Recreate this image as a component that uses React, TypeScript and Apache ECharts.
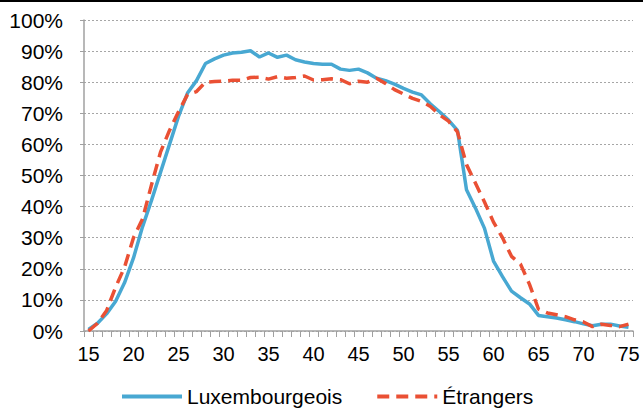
import React, { useEffect, useRef } from "react";
import * as echarts from "echarts";

const ages: string[] = [];
for (let a = 15; a <= 75; a++) ages.push(String(a));

const luxembourgeois = [
  0.5, 2.5, 5.5, 9.5, 15.5, 23.5, 33.5, 42, 51, 60,
  69, 76.5, 80.5, 86, 87.5, 88.7, 89.4, 89.6, 90.1, 88.1,
  89.4, 88, 88.7, 87.2, 86.5, 86, 85.8, 85.8, 84.2, 83.8,
  84.2, 83, 81.3, 80.5, 79.4, 78, 76.8, 75.9, 73, 70.5,
  67.8, 64.5, 45.4, 39.5, 33, 22.5, 17.5, 12.8, 10.7, 8.7,
  5, 4.6, 4.2, 3.6, 3, 2.3, 1.7, 2.2, 2.2, 1.6,
  1.2,
];

const etrangers = [
  0, 2.5, 6.5, 14, 20.5, 30, 36, 47, 57.5, 64.5,
  70.5, 76, 77, 80, 80.2, 80.3, 80.6, 80.6, 81.5, 81.6,
  81, 81.8, 81.3, 81.5, 82, 80.7, 80.8, 81.1, 80.8, 79.5,
  80.3, 80, 81.3, 79.6, 77.6, 76.2, 74.8, 73.8, 72.2, 69.5,
  67.5, 64, 53.5, 47.5, 41.5, 35, 30, 24, 21.5, 15,
  7, 5.8, 5.2, 4.6, 3.6, 2.9, 1.4, 2.2, 1.8, 1.4,
  2.2,
];

const FONT = "Arial, 'Liberation Sans', sans-serif";

export default function App() {
  const ref = useRef<HTMLDivElement>(null);
  useEffect(() => {
    if (!ref.current) return;
    const chart = echarts.init(ref.current, undefined, { renderer: "svg" });
    chart.setOption({
      animation: false,
      backgroundColor: "#ffffff",
      textStyle: { fontFamily: FONT },
      graphic: [
        { type: "rect", left: 0, top: 0, shape: { width: 643, height: 2 }, style: { fill: "#000" } },
      ],
      grid: { left: 84, right: 10, top: 20, bottom: 81 },
      legend: {
        left: 115,
        top: 381,
        itemWidth: 60,
        itemHeight: 14,
        itemGap: 33,
        itemStyle: { opacity: 0 },
        lineStyle: { width: 4 },
        textStyle: { fontSize: 21, color: "#000", fontFamily: FONT },
        data: ["Luxembourgeois", "Étrangers"],
      },
      xAxis: {
        type: "category",
        data: ages,
        boundaryGap: true,
        axisLine: { lineStyle: { color: "#a0a0a0", width: 1.5 } },
        axisTick: { show: true, interval: 0, length: 6, lineStyle: { color: "#a0a0a0" } },
        axisLabel: {
          interval: (i: number) => i % 5 === 0,
          color: "#000",
          fontSize: 20,
          fontFamily: FONT,
          margin: 13,
        },
        splitLine: { show: false },
      },
      yAxis: {
        type: "value",
        min: 0,
        max: 100,
        interval: 10,
        axisLine: { show: true, lineStyle: { color: "#a0a0a0", width: 1.5 } },
        axisTick: { show: true, length: 4, lineStyle: { color: "#a0a0a0" } },
        axisLabel: { formatter: "{value}%", color: "#000", fontSize: 21, fontFamily: FONT, margin: 21 },
        splitLine: { show: true, lineStyle: { color: "#a6a6a6", type: [2, 2], width: 1 } },
      },
      series: [
        {
          name: "Luxembourgeois",
          type: "line",
          data: luxembourgeois,
          symbol: "none",
          lineStyle: { color: "#48a8d2", width: 3.5 },
          itemStyle: { color: "#48a8d2" },
        },
        {
          name: "Étrangers",
          type: "line",
          data: etrangers,
          symbol: "none",
          lineStyle: { color: "#ea5034", width: 3.5, type: [12, 7] },
          itemStyle: { color: "#ea5034" },
        },
      ],
    });
    return () => chart.dispose();
  }, []);
  return (
    <div
      ref={ref}
      style={{ position: "fixed", left: 0, top: 0, width: 643, height: 412 }}
    />
  );
}
